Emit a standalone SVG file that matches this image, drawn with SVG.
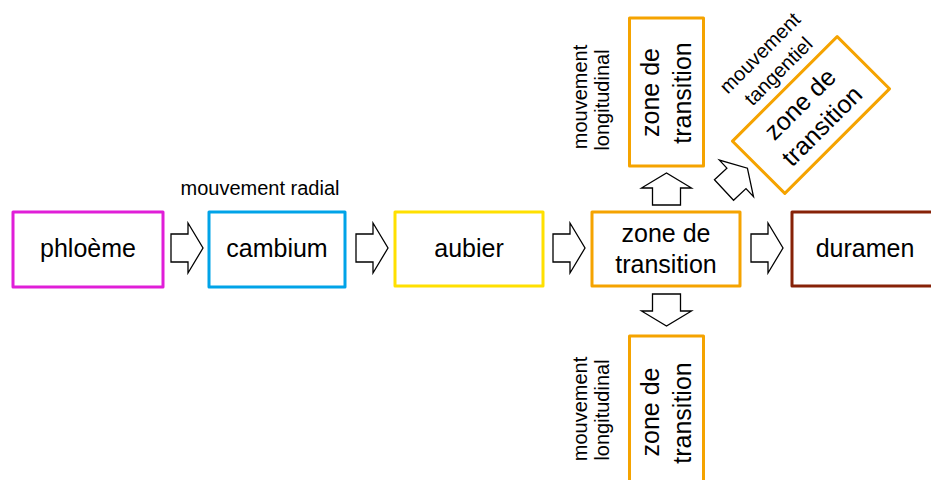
<svg xmlns="http://www.w3.org/2000/svg" width="931" height="480" viewBox="0 0 931 480">
<defs>
<style>
.box{fill:#fff;stroke-width:3;stroke-linejoin:round}
.t{font-family:"Liberation Sans",Arial,sans-serif;font-size:25px;fill:#000;text-anchor:middle}
.s{font-family:"Liberation Sans",Arial,sans-serif;font-size:20px;fill:#000;text-anchor:middle}
.arr{fill:#fff;stroke:#000;stroke-width:1.3;stroke-linejoin:miter}
</style>
<path id="a" d="M0,-14 H17 V-25 L32,0 L17,25 V14 H0 Z"/>
</defs>
<rect width="931" height="480" fill="#fff"/>
<g id="connectors">
<use href="#a" class="arr" transform="translate(171,248)"/>
<use href="#a" class="arr" transform="translate(356,248)"/>
<use href="#a" class="arr" transform="translate(553,248)"/>
<use href="#a" class="arr" transform="translate(751,248)"/>
<use href="#a" class="arr" transform="translate(666.5,205) rotate(-90)"/>
<use href="#a" class="arr" transform="translate(666.5,294) rotate(90)"/>
<use href="#a" class="arr" transform="translate(724,190) rotate(-43)"/>
</g>
<g id="phloeme">
<rect class="box" x="13" y="212" width="150" height="75" stroke="#e01ed8"/>
<text class="t" x="88" y="257">phloème</text>
</g>
<g id="cambium">
<rect class="box" x="209" y="212" width="136" height="75" stroke="#00a3e8"/>
<text class="t" x="277" y="257">cambium</text>
<text class="s" x="260" y="195">mouvement radial</text>
</g>
<g id="aubier">
<rect class="box" x="395" y="212" width="148" height="74" stroke="#ffe000"/>
<text class="t" x="469" y="257">aubier</text>
</g>
<g id="zone-centre">
<rect class="box" x="592" y="212" width="148" height="74" stroke="#f5a300"/>
<text class="t" x="666" y="242">zone de</text>
<text class="t" x="666" y="273">transition</text>
</g>
<g id="duramen">
<rect class="box" x="792" y="212" width="146" height="74" stroke="#872208"/>
<text class="t" x="865" y="257">duramen</text>
</g>
<g id="zone-haut">
<rect class="box" x="629.5" y="18" width="74" height="148" stroke="#f5a300"/>
<text class="t" transform="translate(659,92.5) rotate(-90)">zone de</text>
<text class="t" transform="translate(690.5,93) rotate(-90)">transition</text>
<text class="s" transform="translate(587,97) rotate(-90)">mouvement</text>
<text class="s" transform="translate(609,100) rotate(-90)">longitudinal</text>
</g>
<g id="zone-bas">
<rect class="box" x="629.5" y="336" width="74" height="152" stroke="#f5a300"/>
<text class="t" transform="translate(659,412) rotate(-90)">zone de</text>
<text class="t" transform="translate(690.5,413) rotate(-90)">transition</text>
<text class="s" transform="translate(587,409) rotate(-90)">mouvement</text>
<text class="s" transform="translate(609,410) rotate(-90)">longitudinal</text>
</g>
<g id="zone-oblique">
<g transform="translate(811,115) rotate(-45)">
<rect class="box" x="-74" y="-37" width="148" height="74" stroke="#f5a300"/>
<text class="t" x="0" y="-7">zone de</text>
<text class="t" x="0" y="24">transition</text>
</g>
<g transform="translate(769,62) rotate(-45)">
<text class="s" x="0" y="-6">mouvement</text>
<text class="s" x="0" y="20">tangentiel</text>
</g>
</g>
</svg>
